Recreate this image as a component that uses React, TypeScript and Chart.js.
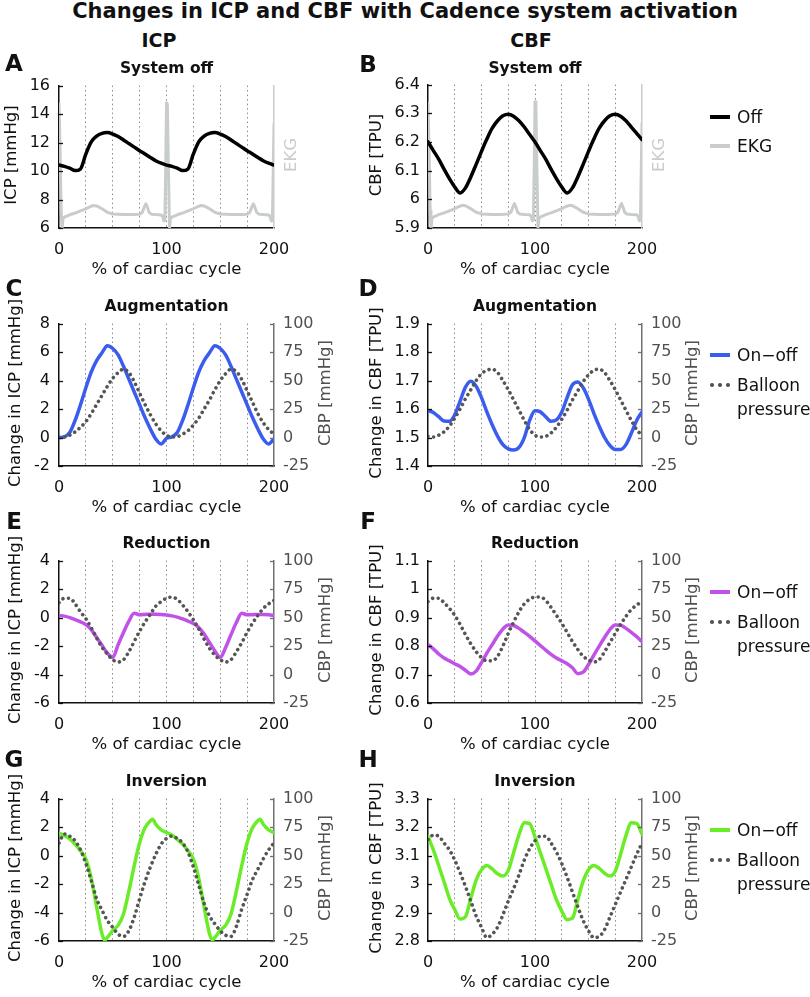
import React, { useEffect, useRef } from "react";
import { Chart, registerables } from "chart.js";

Chart.register(...registerables);

const FONT = "'DejaVu Sans', 'Liberation Sans', Arial, sans-serif";

// ---------------- data ----------------
// % of cardiac cycle (shared sampling)
const X = [0, 5, 10, 15, 20, 25, 30, 35, 40, 45, 50, 55, 60, 65, 70, 75, 80, 85, 90, 95, 100,
  105, 110, 115, 120, 125, 130, 135, 140, 145, 150, 155, 160, 165, 170, 175, 180, 185, 190, 195, 200];
const X_GRID_TICKS = [0, 25, 50, 75, 100, 125, 150, 175, 200];
const X_TICK_LABELS = [0, 100, 200];

// EKG trace (arbitrary units, 0..1 of hidden axis)
const EKG_X = [0, 1, 2, 2.8, 3.8, 6, 10, 15, 20, 25, 29, 32, 35, 40, 45, 50, 60, 70, 75, 77.5,
  79.5, 80.8, 82, 83.8, 86, 90, 95, 96.5, 97.5, 98.5, 99.3, 100, 100.8, 101.8, 102.8, 103.8, 106, 110,
  115, 120, 125, 129, 132, 135, 140, 145, 150, 160, 170, 175, 177.5, 179.5, 180.8, 182, 183.8, 186,
  190, 195, 196.5, 197.5, 198.5, 199.3, 200];
const EKG = [0.87, 0.55, 0.12, 0, 0.07, 0.08, 0.093, 0.105, 0.12, 0.135, 0.15, 0.158, 0.155, 0.135,
  0.11, 0.098, 0.095, 0.095, 0.097, 0.11, 0.15, 0.17, 0.15, 0.11, 0.097, 0.094, 0.092, 0.08, 0.05,
  0.055, 0.45, 0.88, 0.87, 0.4, 0, 0.07, 0.08, 0.093, 0.105, 0.12, 0.135, 0.15, 0.158, 0.155, 0.135,
  0.11, 0.098, 0.095, 0.095, 0.097, 0.11, 0.15, 0.17, 0.15, 0.11, 0.097, 0.094, 0.092, 0.08, 0.05,
  0.055, 0.4, 0.73];

// A: ICP, system off [mmHg]
const ICP_OFF = [10.42, 10.33, 10.2, 10.03, 10.15, 11.2, 12.05, 12.45, 12.65, 12.7, 12.6, 12.42, 12.18,
  11.93, 11.68, 11.43, 11.2, 10.95, 10.72, 10.55, 10.42, 10.33, 10.2, 10.03, 10.15, 11.2, 12.05, 12.45,
  12.65, 12.7, 12.6, 12.42, 12.18, 11.93, 11.68, 11.43, 11.2, 10.95, 10.72, 10.55, 10.42];
// B: CBF, system off [TPU]
const CBF_OFF = [6.2, 6.17, 6.14, 6.105, 6.072, 6.043, 6.022, 6.04, 6.078, 6.122, 6.167, 6.21, 6.248,
  6.274, 6.291, 6.297, 6.29, 6.274, 6.252, 6.226, 6.2, 6.17, 6.14, 6.105, 6.072, 6.043, 6.022, 6.04,
  6.078, 6.122, 6.167, 6.21, 6.248, 6.274, 6.291, 6.297, 6.29, 6.274, 6.252, 6.23, 6.208];

// C: augmentation, change in ICP [mmHg] and balloon pressure [mmHg]
const C_ON = [0, 0.05, 0.35, 1.2, 2.3, 3.5, 4.6, 5.4, 5.95, 6.45, 6.25, 5.8, 5.0, 4.1, 3.2, 2.3, 1.4,
  0.6, -0.1, -0.45, -0.05, 0.05, 0.35, 1.2, 2.3, 3.5, 4.6, 5.4, 5.95, 6.45, 6.25, 5.8, 5.0, 4.1, 3.2,
  2.3, 1.4, 0.6, -0.1, -0.45, -0.1];
const C_BAL = [0.5, 0.5, 2, 5, 9, 14, 21, 29, 37, 45, 52, 57, 60, 57, 49, 39, 29, 20, 12, 6, 2, 0.5,
  0.8, 3, 6, 11, 17, 25, 33, 42, 50, 56, 60, 58, 51, 41, 31, 21, 13, 7, 3];

// D: augmentation, change in CBF [TPU]
const D_ON = [1.595, 1.588, 1.573, 1.558, 1.557, 1.58, 1.628, 1.677, 1.698, 1.68, 1.64, 1.59, 1.545,
  1.505, 1.475, 1.46, 1.456, 1.465, 1.5, 1.56, 1.594, 1.59, 1.573, 1.557, 1.562, 1.59, 1.64, 1.685,
  1.695, 1.675, 1.635, 1.585, 1.54, 1.5, 1.472, 1.458, 1.458, 1.475, 1.515, 1.56, 1.59];
const D_BAL = [1, 0.5, 2, 5, 10, 17, 25, 34, 42, 50, 56, 59, 60, 57, 50, 42, 33, 24, 15, 7, 2, 0.5, 1,
  4, 9, 16, 24, 33, 41, 49, 55, 59, 60, 57, 50, 42, 33, 24, 15, 7, 2];

// E: reduction, change in ICP [mmHg]
const E_ON = [0.15, 0.1, 0, -0.15, -0.3, -0.5, -0.85, -1.4, -1.95, -2.5, -2.8, -1.9, -1.05, -0.25, 0.3,
  0.2, 0.22, 0.24, 0.24, 0.22, 0.18, 0.12, 0.03, -0.1, -0.25, -0.42, -0.7, -1.15, -1.75, -2.35, -2.8,
  -2.1, -1.2, -0.35, 0.3, 0.2, 0.2, 0.22, 0.22, 0.2, 0.15];
const E_BAL = [63, 67, 67, 62, 55, 49, 41, 32, 24, 18, 13, 11, 13, 20, 29, 38, 46, 53, 60, 64, 67, 68,
  66, 61, 55, 48, 40, 31, 23, 17, 13, 11, 13, 20, 28, 37, 45, 52, 58, 62, 65];

// F: reduction, change in CBF [TPU]
const F_ON = [0.805, 0.79, 0.772, 0.758, 0.748, 0.738, 0.728, 0.715, 0.702, 0.712, 0.742, 0.775, 0.805,
  0.835, 0.86, 0.874, 0.872, 0.862, 0.848, 0.834, 0.818, 0.802, 0.786, 0.771, 0.758, 0.748, 0.738,
  0.724, 0.703, 0.708, 0.735, 0.768, 0.8, 0.83, 0.858, 0.874, 0.873, 0.862, 0.848, 0.833, 0.815];
const F_BAL = [64, 67, 67, 63, 58, 52, 44, 35, 27, 20, 15, 12, 12, 16, 25, 36, 46, 55, 62, 66, 68, 68,
  65, 59, 52, 45, 37, 29, 22, 16, 13, 11, 13, 20, 28, 36, 44, 51, 57, 61, 64];

// G: inversion, change in ICP [mmHg]
const G_X = [0, 5, 10, 15, 20, 25, 30, 35, 40, 42.5, 45, 50, 55, 60, 65, 70, 75, 80, 85, 87, 90, 95,
  100, 105, 110, 115, 120, 125, 130, 135, 140, 142.5, 145, 150, 155, 160, 165, 170, 175, 180, 185, 187,
  190, 195, 200];
const G_ON = [1.58, 1.4, 1.17, 0.8, 0.33, -0.25, -1.6, -3.6, -5.5, -5.93, -5.75, -5.25, -4.9, -4.1,
  -2.5, -0.7, 0.9, 1.95, 2.45, 2.55, 2.2, 1.8, 1.62, 1.45, 1.13, 0.8, 0.33, -0.25, -1.6, -3.6, -5.5,
  -5.93, -5.75, -5.25, -4.9, -4.1, -2.5, -0.7, 0.9, 1.95, 2.45, 2.55, 2.2, 1.8, 1.6];
const G_BAL = [61, 69, 67, 63, 55, 43, 28, 12, 2, -7, -13, -19, -21, -16, -4, 12, 27, 40, 51, 60, 65,
  67, 65, 61, 53, 40, 24, 8, -3, -10, -16, -20, -21, -12, 3, 16, 29, 38, 47, 55, 61];

// H: inversion, change in CBF [TPU]
const H_ON = [3.167, 3.12, 3.065, 3.008, 2.95, 2.91, 2.877, 2.885, 2.95, 3.014, 3.05, 3.065, 3.053,
  3.036, 3.028, 3.048, 3.11, 3.173, 3.215, 3.212, 3.165, 3.11, 3.055, 3.0, 2.945, 2.905, 2.875, 2.88,
  2.945, 3.01, 3.05, 3.065, 3.055, 3.038, 3.028, 3.045, 3.105, 3.17, 3.215, 3.213, 3.175];
const H_BAL = [64, 68, 67, 61, 55, 46, 35, 23, 10, -3, -13, -22, -19, -13, -2, 10, 21, 33, 46, 56, 63,
  67, 67, 61, 53, 43, 31, 18, 5, -7, -16, -22, -21, -15, -4, 7, 18, 29, 40, 51, 61];

// tick values
const TICKS_ICP_OFF = [6, 8, 10, 12, 14, 16];
const TICKS_CBF_OFF = [5.9, 6, 6.1, 6.2, 6.3, 6.4];
const TICKS_C = [-2, 0, 2, 4, 6, 8];
const TICKS_D = [1.4, 1.5, 1.6, 1.7, 1.8, 1.9];
const TICKS_E = [-6, -4, -2, 0, 2, 4];
const TICKS_F = [0.6, 0.7, 0.8, 0.9, 1, 1.1];
const TICKS_G = [-6, -4, -2, 0, 2, 4];
const TICKS_H = [2.8, 2.9, 3, 3.1, 3.2, 3.3];
const TICKS_CBP = [-25, 0, 25, 50, 75, 100];

// ---------------- styling ----------------
const BLACK = "#000000";
const EKG_COLOR = "#c8cdca";
const BLUE = "#3a5cef";
const PURPLE = "#c052e8";
const GREEN = "#6aec26";
const DOT = "#555555";
const TEXT = "#111111";
const RIGHT_TEXT = "#505050";

const PLOT_TOPS = [81, 319, 556, 794];
const PLOT_H = 147;
const PAD_TOP = 14;
const X_AXIS_H = 56;
const CANVAS_H = PAD_TOP + PLOT_H + X_AXIS_H;

type Kind = "solid" | "ekg" | "dotted";
interface Series { label: string; x: number[]; y: number[]; color: string; kind: Kind; axis: "y" | "y2" }
interface PanelSpec {
  col: 0 | 1; row: number;
  yMin: number; yMax: number; yTicks: number[];
  y2Min: number; y2Max: number; y2Ticks: number[] | null;
  series: Series[];
}

const PANELS: PanelSpec[] = [
  { col: 0, row: 0, yMin: 6, yMax: 16, yTicks: TICKS_ICP_OFF, y2Min: 0, y2Max: 1, y2Ticks: null,
    series: [
      { label: "Off", x: X, y: ICP_OFF, color: BLACK, kind: "solid", axis: "y" },
      { label: "EKG", x: EKG_X, y: EKG, color: EKG_COLOR, kind: "ekg", axis: "y2" },
    ] },
  { col: 1, row: 0, yMin: 5.9, yMax: 6.4, yTicks: TICKS_CBF_OFF, y2Min: 0, y2Max: 1, y2Ticks: null,
    series: [
      { label: "Off", x: X, y: CBF_OFF, color: BLACK, kind: "solid", axis: "y" },
      { label: "EKG", x: EKG_X, y: EKG, color: EKG_COLOR, kind: "ekg", axis: "y2" },
    ] },
  { col: 0, row: 1, yMin: -2, yMax: 8, yTicks: TICKS_C, y2Min: -25, y2Max: 100, y2Ticks: TICKS_CBP,
    series: [
      { label: "Balloon pressure", x: X, y: C_BAL, color: DOT, kind: "dotted", axis: "y2" },
      { label: "On-off", x: X, y: C_ON, color: BLUE, kind: "solid", axis: "y" },
    ] },
  { col: 1, row: 1, yMin: 1.4, yMax: 1.9, yTicks: TICKS_D, y2Min: -25, y2Max: 100, y2Ticks: TICKS_CBP,
    series: [
      { label: "Balloon pressure", x: X, y: D_BAL, color: DOT, kind: "dotted", axis: "y2" },
      { label: "On-off", x: X, y: D_ON, color: BLUE, kind: "solid", axis: "y" },
    ] },
  { col: 0, row: 2, yMin: -6, yMax: 4, yTicks: TICKS_E, y2Min: -25, y2Max: 100, y2Ticks: TICKS_CBP,
    series: [
      { label: "Balloon pressure", x: X, y: E_BAL, color: DOT, kind: "dotted", axis: "y2" },
      { label: "On-off", x: X, y: E_ON, color: PURPLE, kind: "solid", axis: "y" },
    ] },
  { col: 1, row: 2, yMin: 0.6, yMax: 1.1, yTicks: TICKS_F, y2Min: -25, y2Max: 100, y2Ticks: TICKS_CBP,
    series: [
      { label: "Balloon pressure", x: X, y: F_BAL, color: DOT, kind: "dotted", axis: "y2" },
      { label: "On-off", x: X, y: F_ON, color: PURPLE, kind: "solid", axis: "y" },
    ] },
  { col: 0, row: 3, yMin: -6, yMax: 4, yTicks: TICKS_G, y2Min: -25, y2Max: 100, y2Ticks: TICKS_CBP,
    series: [
      { label: "Balloon pressure", x: X, y: G_BAL, color: DOT, kind: "dotted", axis: "y2" },
      { label: "On-off", x: G_X, y: G_ON, color: GREEN, kind: "solid", axis: "y" },
    ] },
  { col: 1, row: 3, yMin: 2.8, yMax: 3.3, yTicks: TICKS_H, y2Min: -25, y2Max: 100, y2Ticks: TICKS_CBP,
    series: [
      { label: "Balloon pressure", x: X, y: H_BAL, color: DOT, kind: "dotted", axis: "y2" },
      { label: "On-off", x: X, y: H_ON, color: GREEN, kind: "solid", axis: "y" },
    ] },
];

const COL_GEOM = [
  { canvasLeft: 0, canvasW: 340, leftW: 59, plotW: 215 },
  { canvasLeft: 340, canvasW: 470, leftW: 88, plotW: 214 },
];
const RIGHT_W = 62;

const fmt = (v: number) => String(Number(Number(v).toFixed(2)));

const inwardTicks = {
  id: "inwardTicks",
  afterDraw(chart: any) {
    const ctx = chart.ctx;
    const { left, right } = chart.chartArea;
    ["y", "y2"].forEach((id) => {
      const s = chart.scales[id];
      if (!s || !s.options.ticks.display) return;
      ctx.save();
      ctx.strokeStyle = id === "y" ? "#111" : "#6e6e6e";
      ctx.lineWidth = 1.3;
      s.ticks.forEach((t: any) => {
        const py = Math.round(s.getPixelForValue(t.value)) + 0.5;
        ctx.beginPath();
        if (id === "y") { ctx.moveTo(left, py); ctx.lineTo(left + 4, py); }
        else { ctx.moveTo(right, py); ctx.lineTo(right - 4, py); }
        ctx.stroke();
      });
      ctx.restore();
    });
  },
};

function makeConfig(p: PanelSpec): any {
  const g = COL_GEOM[p.col];
  const padRight = g.canvasW - g.leftW - g.plotW - RIGHT_W;
  const tickFont = { family: FONT, size: 16 };
  const datasets = p.series.map((s) => {
    const base: any = {
      label: s.label,
      data: s.x.map((x, i) => ({ x, y: s.y[i] })),
      yAxisID: s.axis,
      borderColor: s.color,
      backgroundColor: s.color,
      pointRadius: 0,
      fill: false,
    };
    if (s.kind === "ekg") return { ...base, borderWidth: 3, tension: 0, borderJoinStyle: "round", borderCapStyle: "round" };
    if (s.kind === "dotted") return { ...base, borderWidth: 3.6, borderDash: [0.01, 5.6], borderCapStyle: "round", cubicInterpolationMode: "monotone" };
    return { ...base, borderWidth: 3.5, cubicInterpolationMode: "monotone", borderJoinStyle: "round", borderCapStyle: "round" };
  });
  const hasRight = !!p.y2Ticks;
  return {
    type: "line",
    data: { datasets },
    plugins: [inwardTicks],
    options: {
      animation: false,
      responsive: false,
      maintainAspectRatio: false,
      layout: { padding: { top: PAD_TOP, left: 0, right: padRight, bottom: 0 } },
      plugins: { legend: { display: false }, tooltip: { enabled: false }, title: { display: false } },
      elements: { point: { radius: 0 } },
      scales: {
        x: {
          type: "linear", min: 0, max: 200,
          afterBuildTicks: (s: any) => { s.ticks = X_GRID_TICKS.map((v) => ({ value: v })); },
          afterFit: (s: any) => { s.height = X_AXIS_H; },
          ticks: {
            autoSkip: false, maxRotation: 0, minRotation: 0, padding: 12, color: TEXT, font: tickFont,
            callback: (v: any) => (X_TICK_LABELS.includes(Number(v)) ? String(v) : ""),
          },
          grid: {
            drawTicks: false, lineWidth: 1,
            color: (c: any) => {
              const v = c.tick ? c.tick.value : -1;
              return v === 0 || v === 200 ? "rgba(0,0,0,0)" : "#8a8a8a";
            },
          },
          border: { color: TEXT, width: 1.5, dash: [1.5, 3] },
          title: { display: true, text: "% of cardiac cycle", color: TEXT, font: { family: FONT, size: 16.5 }, padding: { top: 0, bottom: 4 } },
        },
        y: {
          type: "linear", position: "left", min: p.yMin, max: p.yMax,
          afterBuildTicks: (s: any) => { s.ticks = p.yTicks.map((v) => ({ value: v })); },
          afterFit: (s: any) => { s.width = g.leftW; },
          ticks: { padding: p.col === 0 ? 9 : 8, color: TEXT, font: tickFont, callback: (v: any) => fmt(v) },
          grid: { display: false, drawTicks: false },
          border: { color: TEXT, width: 1.5 },
        },
        y2: {
          type: "linear", position: "right", min: p.y2Min, max: p.y2Max,
          afterBuildTicks: (s: any) => { if (p.y2Ticks) s.ticks = p.y2Ticks.map((v) => ({ value: v })); },
          afterFit: (s: any) => { s.width = RIGHT_W; },
          ticks: { display: hasRight, padding: 9, color: RIGHT_TEXT, font: tickFont, callback: (v: any) => fmt(v) },
          grid: { display: false, drawTicks: false },
          border: { color: hasRight ? "#707070" : EKG_COLOR, width: 1.5 },
        },
      },
    },
  };
}

function Panel({ spec }: { spec: PanelSpec }) {
  const ref = useRef<HTMLCanvasElement>(null);
  const g = COL_GEOM[spec.col];
  useEffect(() => {
    const chart = new Chart(ref.current as HTMLCanvasElement, makeConfig(spec));
    return () => chart.destroy();
  }, [spec]);
  return (
    <canvas
      ref={ref}
      width={g.canvasW}
      height={CANVAS_H}
      style={{ position: "absolute", left: g.canvasLeft, top: PLOT_TOPS[spec.row] - PAD_TOP, width: g.canvasW, height: CANVAS_H }}
    />
  );
}

function Txt(props: { x: number; y: number; text: string; size: number; bold?: boolean; color?: string; rotate?: boolean; left?: boolean }) {
  const { x, y, text, size, bold, color, rotate, left } = props;
  const tr = left ? "translate(0,-50%)" : `translate(-50%,-50%)${rotate ? " rotate(-90deg)" : ""}`;
  return (
    <div style={{
      position: "absolute", left: x, top: y, transform: tr, fontFamily: FONT, fontSize: size,
      fontWeight: bold ? "bold" : "normal", color: color || TEXT, whiteSpace: "nowrap", lineHeight: 1,
    }}>{text}</div>
  );
}

function LineSwatch({ y, color }: { y: number; color: string }) {
  return <div style={{ position: "absolute", left: 710, top: y - 1.75, width: 20, height: 3.5, background: color }} />;
}
function DotSwatch({ y }: { y: number }) {
  return (
    <>
      {[712, 720, 728].map((cx) => (
        <div key={cx} style={{ position: "absolute", left: cx - 1.8, top: y - 1.8, width: 3.6, height: 3.6, borderRadius: "50%", background: DOT }} />
      ))}
    </>
  );
}

const LEFT_TITLES = ["ICP [mmHg]", "Change in ICP [mmHg]", "Change in ICP [mmHg]", "Change in ICP [mmHg]"];
const RIGHT_COL_TITLES = ["CBF [TPU]", "Change in CBF [TPU]", "Change in CBF [TPU]", "Change in CBF [TPU]"];
const ROW_TITLES = ["System off", "Augmentation", "Reduction", "Inversion"];
const LETTERS_L = ["A", "C", "E", "G"];
const LETTERS_R = ["B", "D", "F", "H"];
const LETTER_Y = [63, 288, 521, 759];
const ON_COLORS = [BLUE, PURPLE, GREEN];

export default function App() {
  return (
    <div style={{ position: "absolute", left: 0, top: 0, width: 810, height: 997, overflow: "hidden", background: "#fff" }}>
      {PANELS.map((p, i) => <Panel key={i} spec={p} />)}

      <Txt x={405} y={11} text="Changes in ICP and CBF with Cadence system activation" size={21} bold />
      <Txt x={159} y={40} text="ICP" size={19} bold />
      <Txt x={531} y={40} text="CBF" size={19} bold />

      {PLOT_TOPS.map((top, r) => {
        const cy = top + PLOT_H / 2;
        return (
          <React.Fragment key={r}>
            <Txt x={14} y={LETTER_Y[r]} text={LETTERS_L[r]} size={23} bold />
            <Txt x={368} y={LETTER_Y[r] + (r === 0 ? 1 : 0)} text={LETTERS_R[r]} size={23} bold />
            <Txt x={166.5} y={top - 12} text={ROW_TITLES[r]} size={15.5} bold />
            <Txt x={535} y={top - 12} text={ROW_TITLES[r]} size={15.5} bold />
            <Txt x={r === 0 ? 11 : 15} y={cy} text={LEFT_TITLES[r]} size={16.5} rotate />
            <Txt x={376} y={cy} text={RIGHT_COL_TITLES[r]} size={16.5} rotate />
            {r === 0 ? (
              <>
                <Txt x={291} y={cy} text="EKG" size={16.5} rotate color={EKG_COLOR} />
                <Txt x={659} y={cy} text="EKG" size={16.5} rotate color={EKG_COLOR} />
                <LineSwatch y={top + 36} color={BLACK} />
                <Txt x={737} y={top + 36} text="Off" size={17} left />
                <LineSwatch y={top + 65} color={EKG_COLOR} />
                <Txt x={737} y={top + 65} text="EKG" size={17} left />
              </>
            ) : (
              <>
                <Txt x={325} y={cy} text="CBP [mmHg]" size={16.5} rotate color={RIGHT_TEXT} />
                <Txt x={692} y={cy} text="CBP [mmHg]" size={16.5} rotate color={RIGHT_TEXT} />
                <LineSwatch y={top + 36} color={ON_COLORS[r - 1]} />
                <Txt x={737} y={top + 36} text="On−off" size={17} left />
                <DotSwatch y={top + 66} />
                <Txt x={737} y={top + 66} text="Balloon" size={17} left />
                <Txt x={737} y={top + 90} text="pressure" size={17} left />
              </>
            )}
          </React.Fragment>
        );
      })}
    </div>
  );
}
